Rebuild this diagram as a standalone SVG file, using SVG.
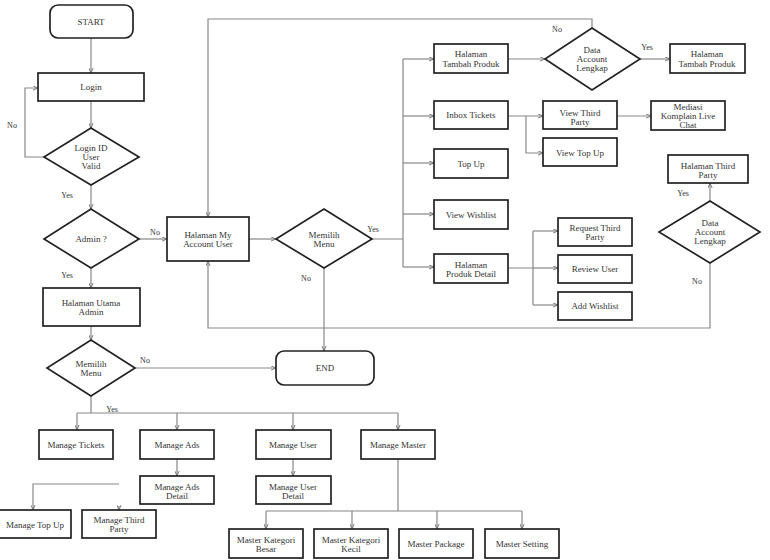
<svg xmlns="http://www.w3.org/2000/svg" width="770" height="560" viewBox="0 0 770 560">
<defs>
<marker id="a" viewBox="0 0 6 6" refX="6" refY="3" markerWidth="5" markerHeight="5" orient="auto" markerUnits="userSpaceOnUse"><path d="M0,0.5 L6,3 L0,5.5" fill="none" stroke="#666" stroke-width="1"/></marker>
<style>
.n rect,.n polygon{fill:#fff;stroke:#222;stroke-width:1.7}
.n text{font-family:"Liberation Serif","Times New Roman",serif;font-size:9px;fill:#333;text-anchor:middle}
.c path{fill:none;stroke:#888;stroke-width:1.2}
.c path.ar{marker-end:url(#a)}
.l text{font-family:"Liberation Serif","Times New Roman",serif;font-size:8px;fill:#333;text-anchor:middle}
</style>
</defs>
<rect width="770" height="560" fill="#fff"/>
<g class="c">
<path class="ar" d="M91,38 V73"/>
<path class="ar" d="M91,101 V128"/>
<path class="ar" d="M44,157 H25 V88 H38"/>
<path class="ar" d="M91,185 V209"/>
<path class="ar" d="M139,239 H167"/>
<path class="ar" d="M91,268 V288"/>
<path class="ar" d="M91,326 V340"/>
<path class="ar" d="M135,368 H276"/>
<path d="M91,396 V413 M77,413 H398"/>
<path class="ar" d="M77,413 V430"/>
<path class="ar" d="M177,413 V430"/>
<path class="ar" d="M293,413 V430"/>
<path class="ar" d="M398,413 V430"/>
<path class="ar" d="M177,459 V476"/>
<path class="ar" d="M293,459 V476"/>
<path d="M398,459 V511 M266,511 H522"/>
<path class="ar" d="M266,511 V529"/>
<path class="ar" d="M352,511 V529"/>
<path class="ar" d="M437,511 V529"/>
<path class="ar" d="M522,511 V529"/>
<path class="ar" d="M119,484 H33 V510"/>
<path class="ar" d="M119,506 V510"/>
<path class="ar" d="M249,239 H276"/>
<path class="ar" d="M324,268 V351"/>
<path d="M372,239 H403 M403,59 V267"/>
<path class="ar" d="M403,59 H434"/>
<path class="ar" d="M403,116 H434"/>
<path class="ar" d="M403,163 H434"/>
<path class="ar" d="M403,214 H434"/>
<path class="ar" d="M403,267 H434"/>
<path class="ar" d="M508,59 H545"/>
<path class="ar" d="M640,59 H670"/>
<path class="ar" d="M592,28 V19 H208 V217"/>
<path class="ar" d="M508,116 H543"/>
<path class="ar" d="M526,116 V153 H543"/>
<path class="ar" d="M617,116 H651"/>
<path d="M508,268 H533 M533,231 V305"/>
<path class="ar" d="M533,231 H558"/>
<path class="ar" d="M533,268 H558"/>
<path class="ar" d="M533,305 H558"/>
<path class="ar" d="M710,201 V183"/>
<path class="ar" d="M710,263 V328 H208 V261"/>
</g>
<g class="l">
<text x="12" y="128">No</text>
<text x="67" y="198">Yes</text>
<text x="155" y="235">No</text>
<text x="67" y="278">Yes</text>
<text x="145" y="363">No</text>
<text x="112" y="412">Yes</text>
<text x="373" y="232">Yes</text>
<text x="306" y="281">No</text>
<text x="557" y="32">No</text>
<text x="647" y="50">Yes</text>
<text x="683" y="196">Yes</text>
<text x="697" y="284">No</text>
</g>
<g id="start" class="n"><rect x="50" y="5" width="83" height="33" rx="8"/><text x="91" y="25">START</text></g>
<g id="login" class="n"><rect x="38" y="73" width="106" height="28"/><text x="91" y="90">Login</text></g>
<g id="valid" class="n"><polygon points="91,128 139,157 91,185 44,157"/><text x="91" y="151">Login ID</text><text x="91" y="160">User</text><text x="91" y="169">Valid</text></g>
<g id="admin" class="n"><polygon points="91,209 139,239 91,268 44,239"/><text x="91" y="242">Admin ?</text></g>
<g id="utama" class="n"><rect x="43" y="288" width="97" height="38"/><text x="91" y="306">Halaman Utama</text><text x="91" y="315">Admin</text></g>
<g id="menu1" class="n"><polygon points="91,340 135,368 91,396 47,368"/><text x="91" y="367">Memilih</text><text x="91" y="376">Menu</text></g>
<g id="myaccount" class="n"><rect x="167" y="217" width="82" height="44"/><text x="208" y="238">Halaman My</text><text x="208" y="247">Account User</text></g>
<g id="menu2" class="n"><polygon points="324,209 372,239 324,268 276,239"/><text x="324" y="238">Memilih</text><text x="324" y="247">Menu</text></g>
<g id="end" class="n"><rect x="276" y="351" width="98" height="34" rx="8"/><text x="325" y="371">END</text></g>
<g id="tambah1" class="n"><rect x="434" y="44" width="74" height="29"/><text x="471" y="57">Halaman</text><text x="471" y="67">Tambah Produk</text></g>
<g id="data1" class="n"><polygon points="592,28 640,59 592,90 545,59"/><text x="592" y="53">Data</text><text x="592" y="62">Account</text><text x="592" y="71">Lengkap</text></g>
<g id="tambah2" class="n"><rect x="670" y="44" width="75" height="29"/><text x="707" y="57">Halaman</text><text x="707" y="67">Tambah Produk</text></g>
<g id="inbox" class="n"><rect x="434" y="101" width="74" height="28"/><text x="471" y="118">Inbox Tickets</text></g>
<g id="vtp" class="n"><rect x="543" y="101" width="74" height="28"/><text x="580" y="116">View Third</text><text x="580" y="125">Party</text></g>
<g id="mediasi" class="n"><rect x="651" y="101" width="74" height="29"/><text x="688" y="110">Mediasi</text><text x="688" y="119">Komplain Live</text><text x="688" y="128">Chat</text></g>
<g id="vtopup" class="n"><rect x="543" y="138" width="74" height="28"/><text x="580" y="156">View Top Up</text></g>
<g id="topup" class="n"><rect x="434" y="149" width="74" height="29"/><text x="471" y="167">Top Up</text></g>
<g id="htp" class="n"><rect x="668" y="155" width="80" height="28"/><text x="708" y="169">Halaman Third</text><text x="708" y="178">Party</text></g>
<g id="wishlist" class="n"><rect x="434" y="200" width="74" height="29"/><text x="471" y="218">View Wishlist</text></g>
<g id="produkdetail" class="n"><rect x="434" y="254" width="74" height="29"/><text x="471" y="268">Halaman</text><text x="471" y="277">Produk Detail</text></g>
<g id="reqtp" class="n"><rect x="558" y="218" width="74" height="28"/><text x="595" y="231">Request Third</text><text x="595" y="240">Party</text></g>
<g id="review" class="n"><rect x="558" y="255" width="74" height="28"/><text x="595" y="272">Review User</text></g>
<g id="addw" class="n"><rect x="558" y="292" width="74" height="28"/><text x="595" y="309">Add Wishlist</text></g>
<g id="data2" class="n"><polygon points="710,201 760,232 710,263 659,232"/><text x="710" y="226">Data</text><text x="710" y="235">Account</text><text x="710" y="244">Lengkap</text></g>
<g id="mtickets" class="n"><rect x="39" y="430" width="74" height="29"/><text x="76" y="448">Manage Tickets</text></g>
<g id="mads" class="n"><rect x="140" y="430" width="74" height="29"/><text x="177" y="448">Manage Ads</text></g>
<g id="madsd" class="n"><rect x="140" y="476" width="74" height="28"/><text x="177" y="490">Manage Ads</text><text x="177" y="499">Detail</text></g>
<g id="muser" class="n"><rect x="256" y="430" width="75" height="29"/><text x="293" y="448">Manage User</text></g>
<g id="muserd" class="n"><rect x="256" y="476" width="75" height="28"/><text x="293" y="490">Manage User</text><text x="293" y="499">Detail</text></g>
<g id="mmaster" class="n"><rect x="361" y="430" width="74" height="29"/><text x="398" y="448">Manage Master</text></g>
<g id="mtopup" class="n"><rect x="-1" y="510" width="72" height="28"/><text x="35" y="528">Manage Top Up</text></g>
<g id="mthird" class="n"><rect x="82" y="510" width="74" height="28"/><text x="119" y="523">Manage Third</text><text x="119" y="532">Party</text></g>
<g id="mkb" class="n"><rect x="229" y="529" width="74" height="29"/><text x="266" y="543">Master Kategori</text><text x="266" y="552">Besar</text></g>
<g id="mkk" class="n"><rect x="314" y="529" width="74" height="29"/><text x="351" y="543">Master Kategori</text><text x="351" y="552">Kecil</text></g>
<g id="mpack" class="n"><rect x="399" y="529" width="74" height="29"/><text x="436" y="547">Master Package</text></g>
<g id="mset" class="n"><rect x="485" y="529" width="74" height="29"/><text x="522" y="547">Master Setting</text></g>
</svg>
